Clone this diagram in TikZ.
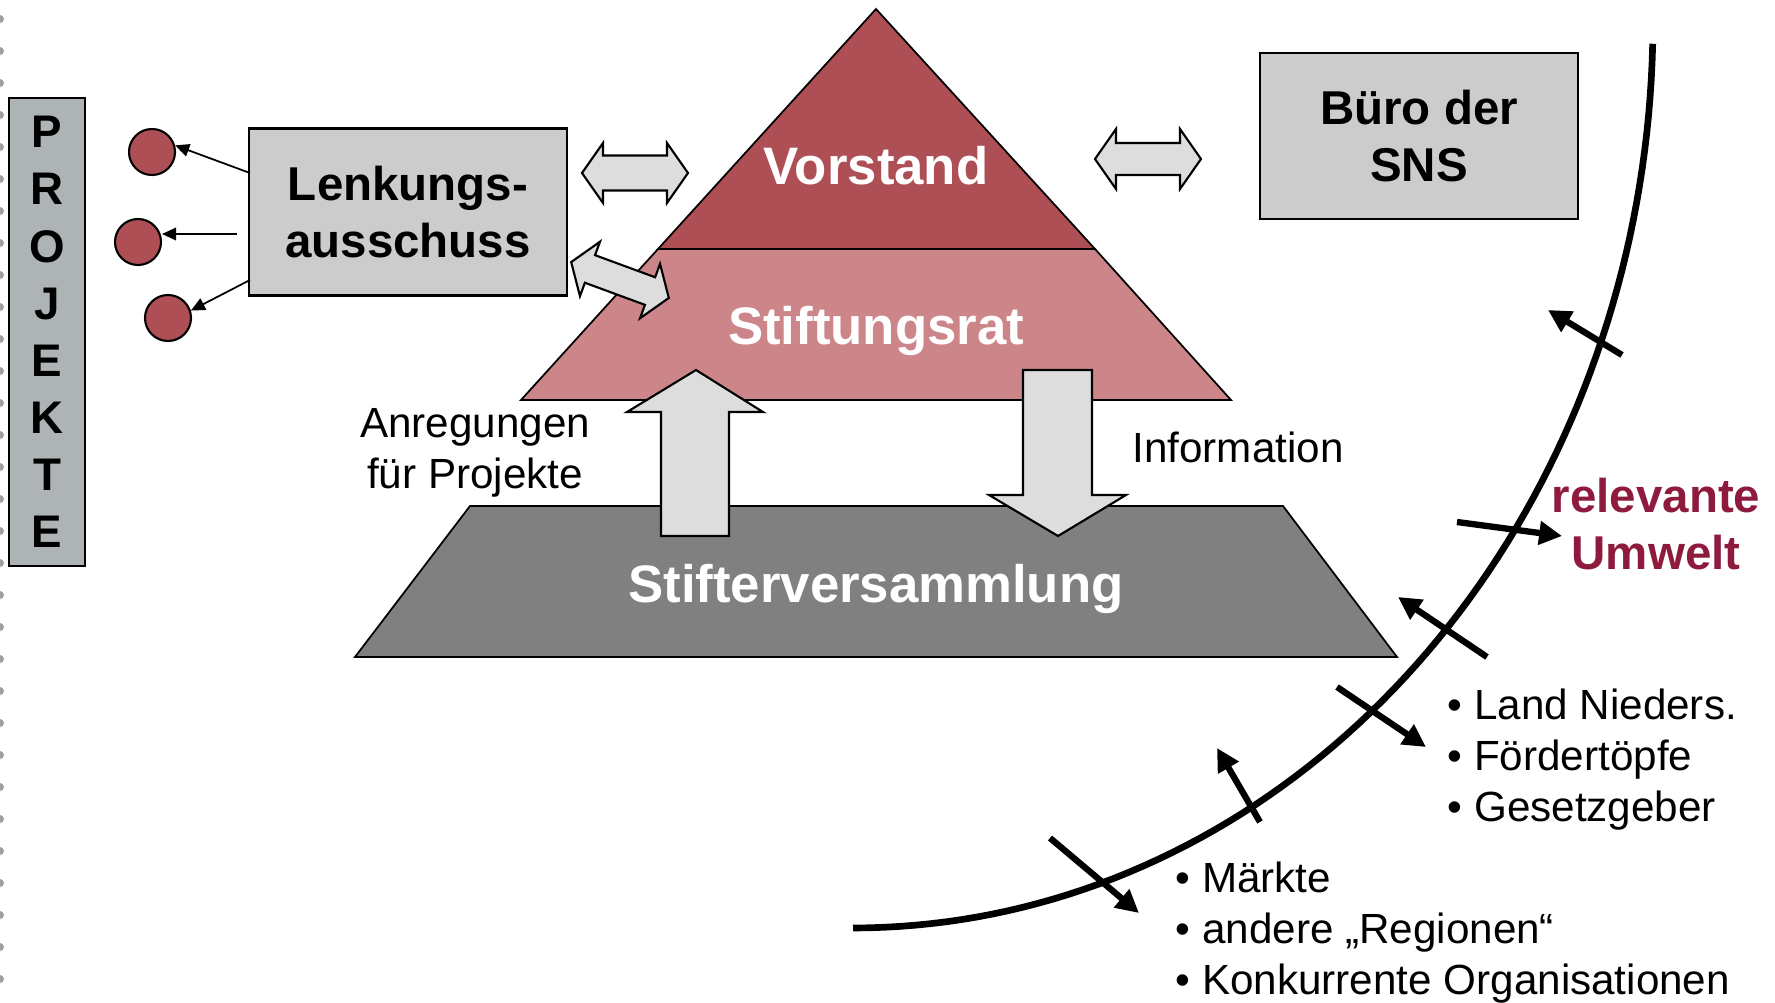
\documentclass[tikz,border=0pt]{standalone}
\usepackage{fontspec}
\setmainfont{Liberation Sans}
\usetikzlibrary{arrows.meta}

\definecolor{vorstandred}{RGB}{173,79,85}
\definecolor{ratrose}{RGB}{204,134,138}
\definecolor{versgray}{RGB}{128,128,128}
\definecolor{boxgray}{RGB}{204,204,204}
\definecolor{projgray}{RGB}{174,180,181}
\definecolor{arrowgray}{RGB}{221,221,221}
\definecolor{umweltred}{RGB}{142,27,62}
\definecolor{dotgray}{RGB}{160,160,160}

\begin{document}
\begin{tikzpicture}[
    x=0.01cm, y=-0.01cm,
    box/.style={draw, line width=0.6pt, fill=boxgray, minimum width=3.17cm,
        minimum height=1.67cm, align=center, font=\fontsize{13.5}{16}\selectfont\bfseries},
    proj/.style={circle, draw, line width=0.6pt, fill=vorstandred, minimum size=0.46cm, inner sep=0pt},
    level/.style={draw, line width=0.5pt},
    leveltext/.style={text=white, font=\fontsize{15}{18}\selectfont\bfseries},
    blockarrow/.style={draw, line width=0.6pt, fill=arrowgray},
    plain/.style={align=left, inner sep=0pt, font=\fontsize{12}{14.5}\selectfont},
    tiparrow/.style={-{Triangle[length=4pt,width=3.6pt]}, line width=0.5pt},
    crossarrow/.style={-{Triangle[length=6.5pt,width=6.5pt]}, line width=1.8pt},
]
\useasboundingbox (0,0) rectangle (1775,1003);

% dotted edge on the left
\foreach \y in {19,51,...,1003}
    \fill[dotgray] (0,\y) circle (0.4mm);

% Projekte
\node[draw, line width=0.6pt, fill=projgray, minimum width=0.76cm, minimum height=4.68cm,
    align=center, font=\fontsize{13}{16.25}\selectfont\bfseries] (projekte) at (47,332)
    {P\\R\\O\\J\\E\\K\\T\\E};

\node[proj] (proj1) at (152,152) {};
\node[proj] (proj2) at (138,242) {};
\node[proj] (proj3) at (168,318) {};

% Lenkungsausschuss
\node[box] (lenk) at (408,212) {Lenkungs-\\ausschuss};
\coordinate (l1) at (250,173);
\coordinate (l2) at (237,234);
\coordinate (l3) at (250,280);
\draw[tiparrow] (l1) -- (proj1.16);
\draw[tiparrow] (l2) -- (l2 -| proj2.east);
\draw[tiparrow] (l3) -- (proj3.18);

% Pyramid
\draw[level, fill=vorstandred] (876,9) -- (1095,249) -- (658,249) -- cycle;
\draw[level, fill=ratrose] (658,249) -- (1095,249) -- (1231,400) -- (521,400) -- cycle;
\draw[level, fill=versgray] (470,506) -- (1283,506) -- (1397,657) -- (355,657) -- cycle;
\node[leveltext] (vorstand) at (876,166) {Vorstand};
\node[leveltext] (rat) at (876,331) {Stiftungsrat};
\node[leveltext] (stifter) at (876,589) {Stifterversammlung};

% Buero
\node[box, minimum width=3.18cm, minimum height=1.66cm] (buero) at (1419,136) {Büro der\\SNS};

% double arrows
\draw[blockarrow] (582,173) -- (603,143) -- (603,155.5) -- (667,155.5) -- (667,143) -- (688,173)
    -- (667,203) -- (667,190.5) -- (603,190.5) -- (603,203) -- cycle;
\draw[blockarrow] (1095,159) -- (1116,129) -- (1116,143) -- (1180,143) -- (1180,129) -- (1201,159)
    -- (1180,189) -- (1180,175) -- (1116,175) -- (1116,189) -- cycle;
\begin{scope}[shift={(620,280)}, rotate=-20.2]
\draw[blockarrow] (-52,0) -- (-32,29) -- (-32,14.7) -- (32,14.7) -- (32,29) -- (52,0)
    -- (32,-29) -- (32,-14.7) -- (-32,-14.7) -- (-32,-29) -- cycle;
\end{scope}

% up / down arrows
\draw[blockarrow] (661,536) -- (661,412) -- (627,412) -- (696,370) -- (763,412) -- (729,412) -- (729,536) -- cycle;
\draw[blockarrow] (1023,370) -- (1092,370) -- (1092,495) -- (1126,495) -- (1058,536) -- (989,495) -- (1023,495) -- cycle;

\node[plain, align=center] (anregung) at (475,453) {Anregungen\\für Projekte};
\node[plain] (info) at (1238,447) {Information};

% Umwelt
\draw[line width=1.9pt] plot[domain=1.5:90, samples=80] ({853+800*cos(\x)}, {20+908*sin(\x)});
\draw[crossarrow] (1622,355) -- (1548,310);
\draw[crossarrow] (1457,522) -- (1562,536);
\draw[crossarrow] (1487,657) -- (1398,597);
\draw[crossarrow] (1337,687) -- (1426,747);
\draw[crossarrow] (1260,822) -- (1217,748);
\draw[crossarrow] (1050,838) -- (1139,913);

\node[align=center, text=umweltred, font=\fontsize{13.5}{16}\selectfont\bfseries] (umwelt)
    at (1656,524) {relevante\\Umwelt};
\node[plain, anchor=west] (land) at (1447,760) {• Land Nieders.\\• Fördertöpfe\\• Gesetzgeber};
\node[plain, anchor=west] (markt) at (1175,933) {• Märkte\\• andere „Regionen“\\• Konkurrente Organisationen};

\end{tikzpicture}
\end{document}
